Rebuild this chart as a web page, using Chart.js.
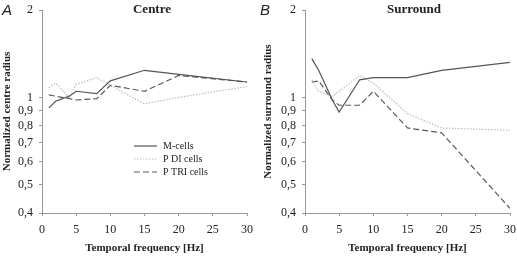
<!DOCTYPE html>
<html><head><meta charset="utf-8">
<script src="https://cdn.jsdelivr.net/npm/chart.js@4/dist/chart.umd.min.js"></script>
<style>
html,body{margin:0;padding:0;background:#fff;}
#wrap{position:relative;width:517px;height:256px;overflow:hidden;font-family:"Liberation Serif",serif;color:#222;}
canvas{position:absolute;top:0;}
.lab{position:absolute;font-family:"Liberation Sans",Arial,sans-serif;font-style:italic;font-size:15px;line-height:15px;}
.ttl{position:absolute;font-weight:bold;font-size:13px;line-height:13px;transform:translateX(-50%);white-space:nowrap;}
</style></head>
<body><div id="wrap">
<canvas id="ca" width="258" height="256" style="left:0;width:258px;height:256px"></canvas>
<canvas id="cb" width="259" height="256" style="left:258px;width:259px;height:256px"></canvas>
<div class="lab" style="left:2px;top:2px">A</div>
<div class="lab" style="left:260px;top:2px">B</div>
<div class="ttl" style="left:152px;top:2px">Centre</div>
<div class="ttl" style="left:414px;top:2px">Surround</div>
</div>
<script>
const freq = [1, 2, 4, 5, 8, 10, 15, 20, 30];
const yTicks = [0.4, 0.5, 0.6, 0.7, 0.8, 0.9, 1, 2];
const seriesNames = ['M-cells', 'P DI cells', 'P TRI cells'];

const centreM   = [0.92, 0.97, 1.01, 1.05, 1.03, 1.14, 1.24, 1.20, 1.13];
const centreDI  = [1.08, 1.12, 1.00, 1.11, 1.17, 1.10, 0.95, 1.00, 1.09];
const centreTRI = [1.02, 1.01, 0.99, 0.98, 0.99, 1.10, 1.05, 1.19, 1.13];

const surrM   = [1.36, 1.24, 0.98, 0.89, 1.15, 1.17, 1.17, 1.24, 1.32];
const surrDI  = [1.15, 1.05, 1.01, 1.05, 1.19, 1.12, 0.88, 0.785, 0.77];
const surrTRI = [1.13, 1.14, 0.98, 0.94, 0.94, 1.05, 0.785, 0.755, 0.415];

const styles = [
  {borderColor:'#555', borderWidth:1.2, borderDash:[]},
  {borderColor:'#bdbdbd', borderWidth:1.2, borderDash:[1.5,1.5]},
  {borderColor:'#5a5a5a', borderWidth:1.2, borderDash:[6,3]}
];

function mk(vals){
  return vals.map((v,i)=>Object.assign({
    label: seriesNames[i],
    data: freq.map((f,j)=>({x:f, y:v[j]})),
    pointRadius:0, tension:0, fill:false
  }, styles[i]));
}

const legendPlugin = {
  id:'innerLegend',
  afterDraw(chart, args, opts){
    if(!opts.show) return;
    const ctx = chart.ctx;
    ctx.save();
    ctx.font = '10px "Liberation Serif"';
    ctx.fillStyle = '#222';
    ctx.textBaseline = 'middle';
    const ys = [146, 159, 172];
    seriesNames.forEach((n,i)=>{
      const s = styles[i];
      ctx.strokeStyle = s.borderColor; ctx.lineWidth = s.borderWidth;
      ctx.setLineDash(s.borderDash);
      ctx.beginPath(); ctx.moveTo(134, ys[i]); ctx.lineTo(157, ys[i]); ctx.stroke();
      ctx.setLineDash([]);
      ctx.fillText(n, 163, ys[i]);
    });
    ctx.restore();
  }
};

function build(id, vals, ytitle, yWidth, rightPad, titlePad, showLegend){
  new Chart(document.getElementById(id), {
    type:'line',
    data:{datasets: mk(vals)},
    plugins:[legendPlugin],
    options:{
      responsive:false, animation:false,
      layout:{padding:{left:0, right:rightPad, top:10, bottom:0}},
      plugins:{legend:{display:false}, tooltip:{enabled:false}, innerLegend:{show:showLegend}},
      scales:{
        x:{
          type:'linear', min:0, max:30,
          afterFit(s){ s.height = 43; s.paddingLeft = 0; s.paddingRight = 0; },
          ticks:{stepSize:5, color:'#222', font:{family:'Liberation Serif', size:12}, padding:7, maxRotation:0},
          grid:{drawOnChartArea:false, drawTicks:true, tickLength:3, color:'#999'},
          border:{display:true, color:'#999', width:1},
          title:{display:true, text:'Temporal frequency [Hz]', color:'#222', font:{family:'Liberation Serif', size:11, weight:'bold'}, padding:{top:4, bottom:1}}
        },
        y:{
          type:'logarithmic', min:0.4, max:2,
          afterFit(s){ s.width = yWidth; s.paddingTop = 0; s.paddingBottom = 0; },
          afterBuildTicks(s){ s.ticks = yTicks.map(v=>({value:v})); },
          ticks:{color:'#222', font:{family:'Liberation Serif', size:12}, padding:6,
            callback:(v)=>String(v).replace('.', ',')},
          grid:{drawOnChartArea:false, drawTicks:true, tickLength:3, color:'#999'},
          border:{display:true, color:'#999', width:1},
          title:{display:true, text:ytitle, color:'#222', font:{family:'Liberation Serif', size:11, weight:'bold'}, padding:{top:titlePad, bottom:0}}
        }
      }
    }
  });
}

build('ca', [centreM, centreDI, centreTRI], 'Normalized centre radius', 42, 11, 1, true);
build('cb', [surrM, surrDI, surrTRI], 'Normalized surround radius', 47, 7, 4, false);
</script>
</body></html>
